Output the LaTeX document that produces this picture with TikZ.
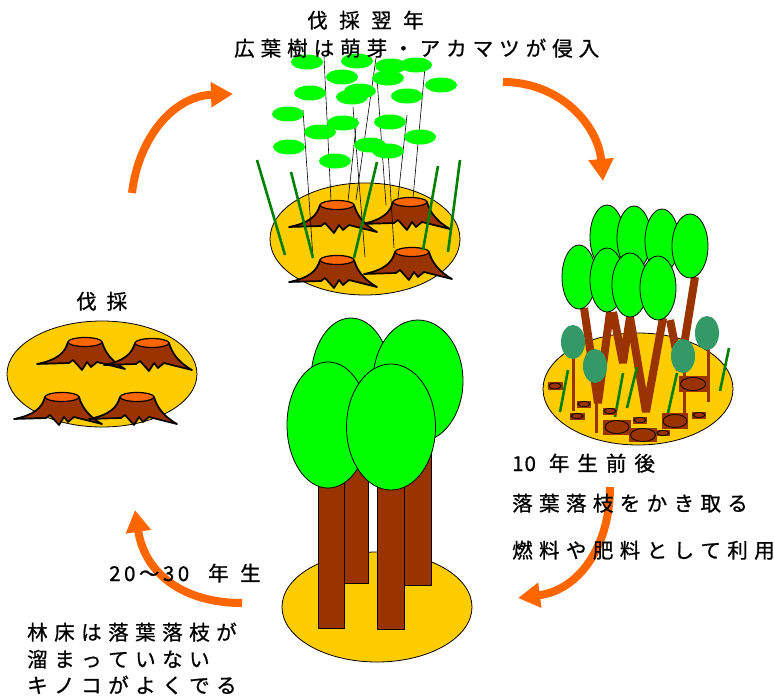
\documentclass[tikz,border=0pt]{standalone}
\usepackage{fontspec}
\newfontfamily\jpfont{Noto Sans CJK JP}[FakeBold=0.9]
\usetikzlibrary{arrows.meta}

\definecolor{groundc}{HTML}{FFCC00}
\definecolor{barkc}{HTML}{993300}
\definecolor{cutc}{HTML}{FF6600}
\definecolor{leafc}{HTML}{00FF00}
\definecolor{grassc}{HTML}{008000}
\definecolor{youngc}{HTML}{339966}
\definecolor{cyclec}{HTML}{FF6600}

% letter-spaced text: \jpspaced{kern in pt}{characters}
\newdimen\jpkern
\def\jpend{}
\newcommand\jpspaced[2]{\jpkern=#1pt\relax\jpfirst#2\jpend}
\def\jpfirst#1{#1\jploop}
\def\jploop#1{\ifx#1\jpend\else\kern\jpkern\relax#1\expandafter\jploop\fi}
\newcommand\jptext{\jpfont\fontsize{20.5}{24}\selectfont}

% one cut piece of wood: centre, half width, half height, ring radii
\newcommand\woodcut[5]{%
  \begin{scope}[shift={(#1)}]
    \fill[barkc] (-#2,-#3) rectangle (#2,#3);
    \draw[line width=0.8, fill=barkc] (0,0) ellipse (#4 and #5);
  \end{scope}}

\tikzset{
  ground/.style={draw=black, line width=0.8, fill=groundc},
  canopy/.style={draw=black, line width=0.8, fill=leafc},
  leaf/.style={fill=leafc},
  stem/.style={draw=black, line width=0.6},
  grass/.style={draw=grassc, line width=2.6},
  trunkbar/.style={draw=barkc, line width=8, line join=bevel},
  trunkbox/.style={draw=black, line width=0.6, fill=barkc},
  sapling/.style={fill=youngc},
  saplingstem/.style={draw=barkc, line width=3},
  cyclearrow/.style={draw=cyclec, line width=8, -{Triangle[length=22pt,width=24pt]}},
  jplabel/.style={font=\jptext, inner sep=0, anchor=base west},
  stump/.pic={
    \draw[line width=1.7, fill=barkc, line join=round]
      (-17,0) .. controls (-20,11) and (-28,18) .. (-48,22)
      -- (-16,21) -- (-12,18) -- (-3,28) -- (2,20) -- (6,25) -- (12,20) -- (40,27)
      .. controls (26,19) and (20,10) .. (17,0) -- cycle;
    \draw[line width=1.2, fill=cutc] (0,0) ellipse (17 and 4.5);
  }
}

\begin{document}
\begin{tikzpicture}[x=1pt,y=-1pt]
\useasboundingbox (0,0) rectangle (774,696);

% ---------- cycle arrows ----------
\draw[cyclearrow] (132,193) .. controls (138,140) and (172,96) .. (233,94);
\draw[cyclearrow] (503,82) .. controls (560,82) and (598,125) .. (603,181);
\draw[cyclearrow] (610,487) .. controls (610,545) and (580,590) .. (518,598);
\draw[cyclearrow] (242,603) .. controls (185,603) and (145,575) .. (135,510);

% ---------- felled: four stumps ----------
\draw[ground] (102,374) ellipse (95 and 53);
\pic at (85,342) {stump};
\pic at (152,343) {stump};
\pic at (62,397) {stump};
\pic at (137,397) {stump};

% ---------- the year after felling ----------
\draw[ground] (365,239) ellipse (95 and 56);
\pic at (410,202) {stump};
\pic at (337,205) {stump};
\pic at (412,252) {stump};
\pic at (337,260) {stump};
% shoot stems
\draw[stem] (324,57) -- (331,201);
\draw[stem] (303,110) -- (313,258);
\draw[stem] (357,118) -- (348,201);
\draw[stem] (353,107) -- (365,257);
\draw[stem] (376,58) -- (356,200);
\draw[stem] (377,78) -- (386,205);
\draw[stem] (407,115) -- (398,198);
\draw[stem] (425,67) -- (413,198);
\draw[stem] (388,151) -- (394,248);
% pine seedlings
\draw[grass] (257,160) -- (285,255);
\draw[grass] (291,172) -- (313,258);
\draw[grass] (377,162) -- (354,258);
\draw[grass] (438,166) -- (423,250);
\draw[grass] (460,160) -- (448,252);
% sprouting leaves
\foreach \p in {(307,62),(357,61),(391,66),(416,65),(342,77),(388,78),(441,85),
                (310,93),(352,97),(360,91),(407,96),(288,114),(343,123),(320,132),
                (390,122),(420,137),(289,147),(370,145),(388,151),(335,161)}
  \fill[leaf] \p ellipse (16 and 7.5);

% ---------- about ten years ----------
\draw[ground] (638,389) ellipse (95 and 56);
\draw[trunkbar] (584,308) -- (598,403) -- (610,312);
\draw[trunkbar] (613,312) -- (623,363) -- (630,317);
\draw[trunkbar] (630,317) -- (646,412) -- (663,318);
\draw[trunkbar] (670,320) -- (680,370) -- (695,277);
% young trees
\draw[saplingstem] (573,342) -- (573,411);
\draw[saplingstem] (596,366) -- (596,433);
\draw[saplingstem] (684,356) -- (684,416);
\draw[saplingstem] (708,333) -- (708,402);
\fill[sapling] (573,342) ellipse (12 and 17);
\fill[sapling] (595,366) ellipse (12 and 17);
\fill[sapling] (683,356) ellipse (12 and 17);
\fill[sapling] (707,333) ellipse (12 and 17);
% grass
\draw[grass] (568,370) -- (560,412);
\draw[grass] (623,373) -- (615,417);
\draw[grass] (637,367) -- (627,408);
\draw[grass] (677,373) -- (668,413);
\draw[grass] (729,348) -- (720,391);
% raked litter and cut wood
\woodcut{555,386}{7.5}{4}{6}{3}
\woodcut{693,384}{14}{8}{12.5}{6.5}
\woodcut{584,404}{7}{3.5}{6}{2.5}
\woodcut{577,416}{7.5}{3.5}{6}{2.5}
\woodcut{610,411}{7}{3.5}{6}{2.5}
\woodcut{640,420}{7}{3.5}{6}{2.5}
\woodcut{699,415}{7}{3.5}{6}{2.5}
\woodcut{675,421}{13}{8}{12}{6.5}
\woodcut{617,427}{14}{7.5}{12}{6.5}
\woodcut{643,435}{14}{7}{12.5}{6.5}
\woodcut{663,433}{7}{3}{6}{2.5}
% crowns
\draw[canopy] (607,237) ellipse (17 and 32);
\draw[canopy] (634,238) ellipse (17 and 32);
\draw[canopy] (662,241) ellipse (17 and 32);
\draw[canopy] (690,246) ellipse (18 and 32);
\draw[canopy] (579,277) ellipse (17 and 32);
\draw[canopy] (607,280) ellipse (17 and 32);
\draw[canopy] (630,285) ellipse (18 and 32);
\draw[canopy] (658,288) ellipse (18 and 32);

% ---------- 20 to 30 years ----------
\draw[ground] (377,607) ellipse (95 and 55);
\draw[trunkbox] (344,450) rectangle (368,583);
\draw[trunkbox] (404,450) rectangle (431,585);
\draw[trunkbox] (318,450) rectangle (344,628);
\draw[trunkbox] (377,450) rectangle (404,629);
\draw[canopy] (351,380) ellipse (40 and 62);
\draw[canopy] (418,381) ellipse (45 and 61);
\draw[canopy] (328,425) ellipse (41 and 63);
\draw[canopy] (391,427) ellipse (44.5 and 63);

% ---------- labels ----------
\node[jplabel] (title) at (307,28) {\jpspaced{11.5}{伐採翌年}};
\node[jplabel] (sprout) at (234,56) {\jpspaced{6}{広葉樹は萌芽・アカマツが侵入}};
\node[jplabel] (felled) at (76,309) {\jpspaced{10}{伐採}};
\node[jplabel] (ten) at (512,471) {\jpspaced{1}{10}\kern13pt\jpspaced{8}{年生前後}};
\node[jplabel] (rake) at (512,511) {\jpspaced{6.4}{落葉落枝をかき取る}};
\node[jplabel] (use) at (512,558) {\jpspaced{6.4}{燃料や肥料として利用}};
\node[jplabel] (mature) at (109,581) {\jpspaced{3.5}{20～30}\kern19pt\jpspaced{11.5}{年生}};
\node[jplabel] (floor1) at (27,640) {\jpspaced{6.5}{林床は落葉落枝が}};
\node[jplabel] (floor2) at (27,667) {\jpspaced{6.5}{溜まっていない}};
\node[jplabel] (floor3) at (27,693) {\jpspaced{6.5}{キノコがよくでる}};
\end{tikzpicture}
\end{document}
